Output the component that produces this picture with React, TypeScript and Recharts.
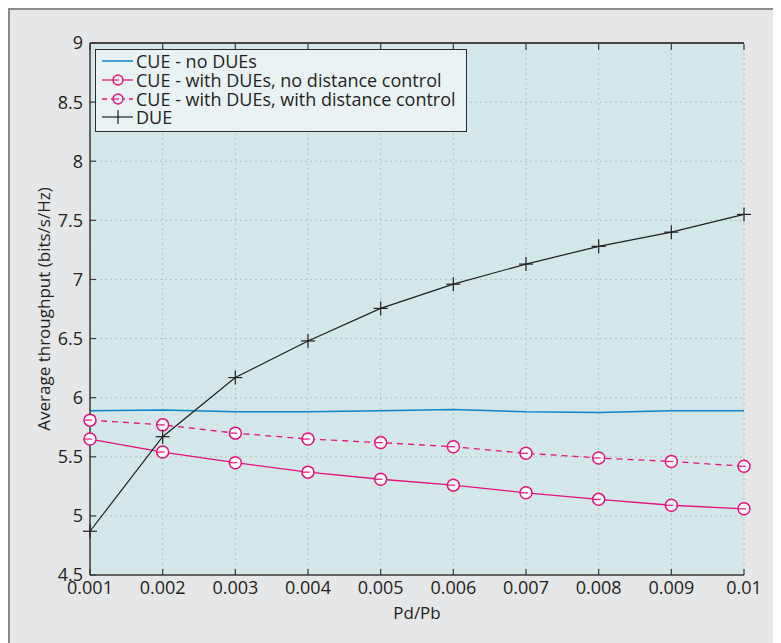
import React from 'react';
import {
  LineChart,
  Line,
  CartesianGrid,
  XAxis,
  YAxis,
  Legend,
  ReferenceLine,
} from 'recharts';

// values
const pdPb = [0.001, 0.002, 0.003, 0.004, 0.005, 0.006, 0.007, 0.008, 0.009, 0.01];
const cueNoDues = [5.89, 5.895, 5.88, 5.88, 5.89, 5.9, 5.88, 5.875, 5.89, 5.89];
const cueNoControl = [5.65, 5.54, 5.45, 5.37, 5.31, 5.26, 5.195, 5.14, 5.09, 5.06];
const cueWithControl = [5.81, 5.77, 5.7, 5.65, 5.62, 5.585, 5.53, 5.49, 5.46, 5.42];
const dueThroughput = [4.87, 5.67, 6.17, 6.48, 6.755, 6.96, 7.13, 7.28, 7.4, 7.55];

const xTicks = [0.001, 0.002, 0.003, 0.004, 0.005, 0.006, 0.007, 0.008, 0.009, 0.01];
const yTicks = [4.5, 5, 5.5, 6, 6.5, 7, 7.5, 8, 8.5, 9];

const legendLabels = [
  'CUE - no DUEs',
  'CUE - with DUEs, no distance control',
  'CUE - with DUEs, with distance control',
  'DUE',
];

const data = pdPb.map((x, i) => ({
  x,
  noDues: cueNoDues[i],
  noCtrl: cueNoControl[i],
  withCtrl: cueWithControl[i],
  due: dueThroughput[i],
}));

const FONT = '"Open Sans", "Noto Sans", sans-serif';
const TEXT = '#231f20';
const AXIS = '#3a3a3a';
const BLUE = '#0a87cc';
const PINK = '#e5117c';
const BLACK = '#1e1e1e';

const circleDot = (props: any) => {
  const { cx, cy, index } = props;
  if (cx == null || cy == null) return <g key={index} />;
  return (
    <g key={index}>
      <circle cx={cx} cy={cy} r={6} fill="#fff" stroke={PINK} strokeWidth={1.5} />
      <line x1={cx - 6} y1={cy} x2={cx + 2} y2={cy} stroke={PINK} strokeWidth={1.2} />
    </g>
  );
};

const plusDot = (props: any) => {
  const { cx, cy, index } = props;
  if (cx == null || cy == null) return <g key={index} />;
  return (
    <g key={index} stroke={BLACK} strokeWidth={1.2}>
      <line x1={cx - 7} y1={cy} x2={cx + 7} y2={cy} />
      <line x1={cx} y1={cy - 7} x2={cx} y2={cy + 7} />
    </g>
  );
};

const BottomTick = (props: any) => {
  const { x, y, payload } = props;
  return (
    <g>
      <line x1={x} y1={y} x2={x} y2={y - 6} stroke={AXIS} strokeWidth={1.2} />
      <text x={x} y={y + 19} textAnchor="middle" fill={TEXT} fontSize={18} fontFamily={FONT}>
        {String(payload.value)}
      </text>
    </g>
  );
};

const LeftTick = (props: any) => {
  const { x, y, payload } = props;
  return (
    <g>
      <line x1={x} y1={y} x2={x + 6} y2={y} stroke={AXIS} strokeWidth={1.2} />
      <text x={x - 7} y={y} dy="0.36em" textAnchor="end" fill={TEXT} fontSize={18} fontFamily={FONT}>
        {String(payload.value)}
      </text>
    </g>
  );
};

const TopTick = (props: any) => {
  const { x, y } = props;
  return <line x1={x} y1={y + 1} x2={x} y2={y + 7} stroke={AXIS} strokeWidth={1.2} />;
};

const RightTick = (props: any) => {
  const { x, y } = props;
  return <line x1={x} y1={y} x2={x - 6} y2={y} stroke={AXIS} strokeWidth={1.2} />;
};

const LegendIcon = ({ i }: { i: number }) => {
  if (i === 0) {
    return (
      <svg width={32} height={14}>
        <line x1={0} y1={7} x2={31} y2={7} stroke={BLUE} strokeWidth={1.5} />
      </svg>
    );
  }
  if (i === 3) {
    return (
      <svg width={32} height={14}>
        <line x1={0} y1={7} x2={31} y2={7} stroke={BLACK} strokeWidth={1.2} />
        <line x1={16} y1={0} x2={16} y2={14} stroke={BLACK} strokeWidth={1.2} />
      </svg>
    );
  }
  return (
    <svg width={32} height={14}>
      <line
        x1={0}
        y1={7}
        x2={31}
        y2={7}
        stroke={PINK}
        strokeWidth={1.3}
        strokeDasharray={i === 2 ? '5 4' : undefined}
      />
      <circle cx={16} cy={7} r={5} fill="#eaf3f4" stroke={PINK} strokeWidth={1.4} />
      <line x1={11} y1={7} x2={17} y2={7} stroke={PINK} strokeWidth={1.2} />
    </svg>
  );
};

const LegendBox = () => (
  <div
    style={{
      width: 370,
      height: 79,
      background: '#eaf3f4',
      border: '1px solid #2a2a2a',
      fontFamily: FONT,
      fontSize: 18,
      color: TEXT,
      paddingTop: 2,
      boxSizing: 'content-box',
    }}
  >
    {legendLabels.map((label, i) => (
      <div key={label} style={{ display: 'flex', alignItems: 'center', height: 18.7, paddingLeft: 6 }}>
        <LegendIcon i={i} />
        <span style={{ marginLeft: 2, lineHeight: '18px', whiteSpace: 'nowrap' }}>{label}</span>
      </div>
    ))}
  </div>
);

export default function App() {
  return (
    <div
      style={{
        width: 771,
        height: 633,
        background: '#e6e7e8',
        borderTop: '2px solid #8a8a8a',
        borderLeft: '2px solid #8a8a8a',
      }}
    >
      <LineChart
        width={771}
        height={633}
        data={data}
        margin={{ top: 32, right: 37, left: 30, bottom: 18 }}
      >
        <CartesianGrid stroke="#bdbdbd" strokeDasharray="2 3" fill="#d5e8e9" />
        <XAxis
          dataKey="x"
          type="number"
          domain={[0.001, 0.01]}
          ticks={xTicks}
          height={50}
          tickSize={0}
          tickMargin={0}
          tickLine={false}
          tick={<BottomTick />}
          axisLine={{ stroke: AXIS, strokeWidth: 1.5 }}
          label={{ value: 'Pd/Pb', position: 'insideBottom', offset: 6, fill: TEXT, fontSize: 17, fontFamily: FONT }}
        />
        <XAxis
          xAxisId="top"
          dataKey="x"
          type="number"
          orientation="top"
          domain={[0.001, 0.01]}
          ticks={xTicks}
          height={1}
          tickSize={0}
          tickMargin={0}
          tickLine={false}
          tick={<TopTick />}
          axisLine={{ stroke: AXIS, strokeWidth: 1.5 }}
        />
        <YAxis
          type="number"
          domain={[4.5, 9]}
          ticks={yTicks}
          width={50}
          tickSize={0}
          tickMargin={0}
          tickLine={false}
          tick={<LeftTick />}
          axisLine={{ stroke: AXIS, strokeWidth: 1.5 }}
          label={{
            value: 'Average throughput (bits/s/Hz)',
            angle: -90,
            position: 'insideLeft',
            offset: 4,
            fill: TEXT,
            fontSize: 17,
            fontFamily: FONT,
            style: { textAnchor: 'middle' },
          }}
        />
        <YAxis
          yAxisId="right"
          type="number"
          orientation="right"
          domain={[4.5, 9]}
          ticks={yTicks}
          width={0}
          tickSize={0}
          tickMargin={0}
          tickLine={false}
          tick={<RightTick />}
          axisLine={{ stroke: AXIS, strokeWidth: 1.5 }}
        />
        <ReferenceLine y={9} stroke={AXIS} strokeWidth={1.5} ifOverflow="visible" />
        <Line
          dataKey="noDues"
          stroke={BLUE}
          strokeWidth={1.5}
          dot={false}
          type="linear"
          isAnimationActive={false}
        />
        <Line
          dataKey="noCtrl"
          stroke={PINK}
          strokeWidth={1.3}
          dot={circleDot}
          type="linear"
          isAnimationActive={false}
        />
        <Line
          dataKey="withCtrl"
          stroke={PINK}
          strokeWidth={1.3}
          strokeDasharray="6 5"
          dot={circleDot}
          type="linear"
          isAnimationActive={false}
        />
        <Line
          dataKey="due"
          stroke={BLACK}
          strokeWidth={1.2}
          dot={plusDot}
          type="linear"
          isAnimationActive={false}
        />
        <Legend
          layout="vertical"
          align="center"
          verticalAlign="middle"
          wrapperStyle={{ top: 39, left: 85, width: 372 }}
          content={() => <LegendBox />}
        />
      </LineChart>
    </div>
  );
}
